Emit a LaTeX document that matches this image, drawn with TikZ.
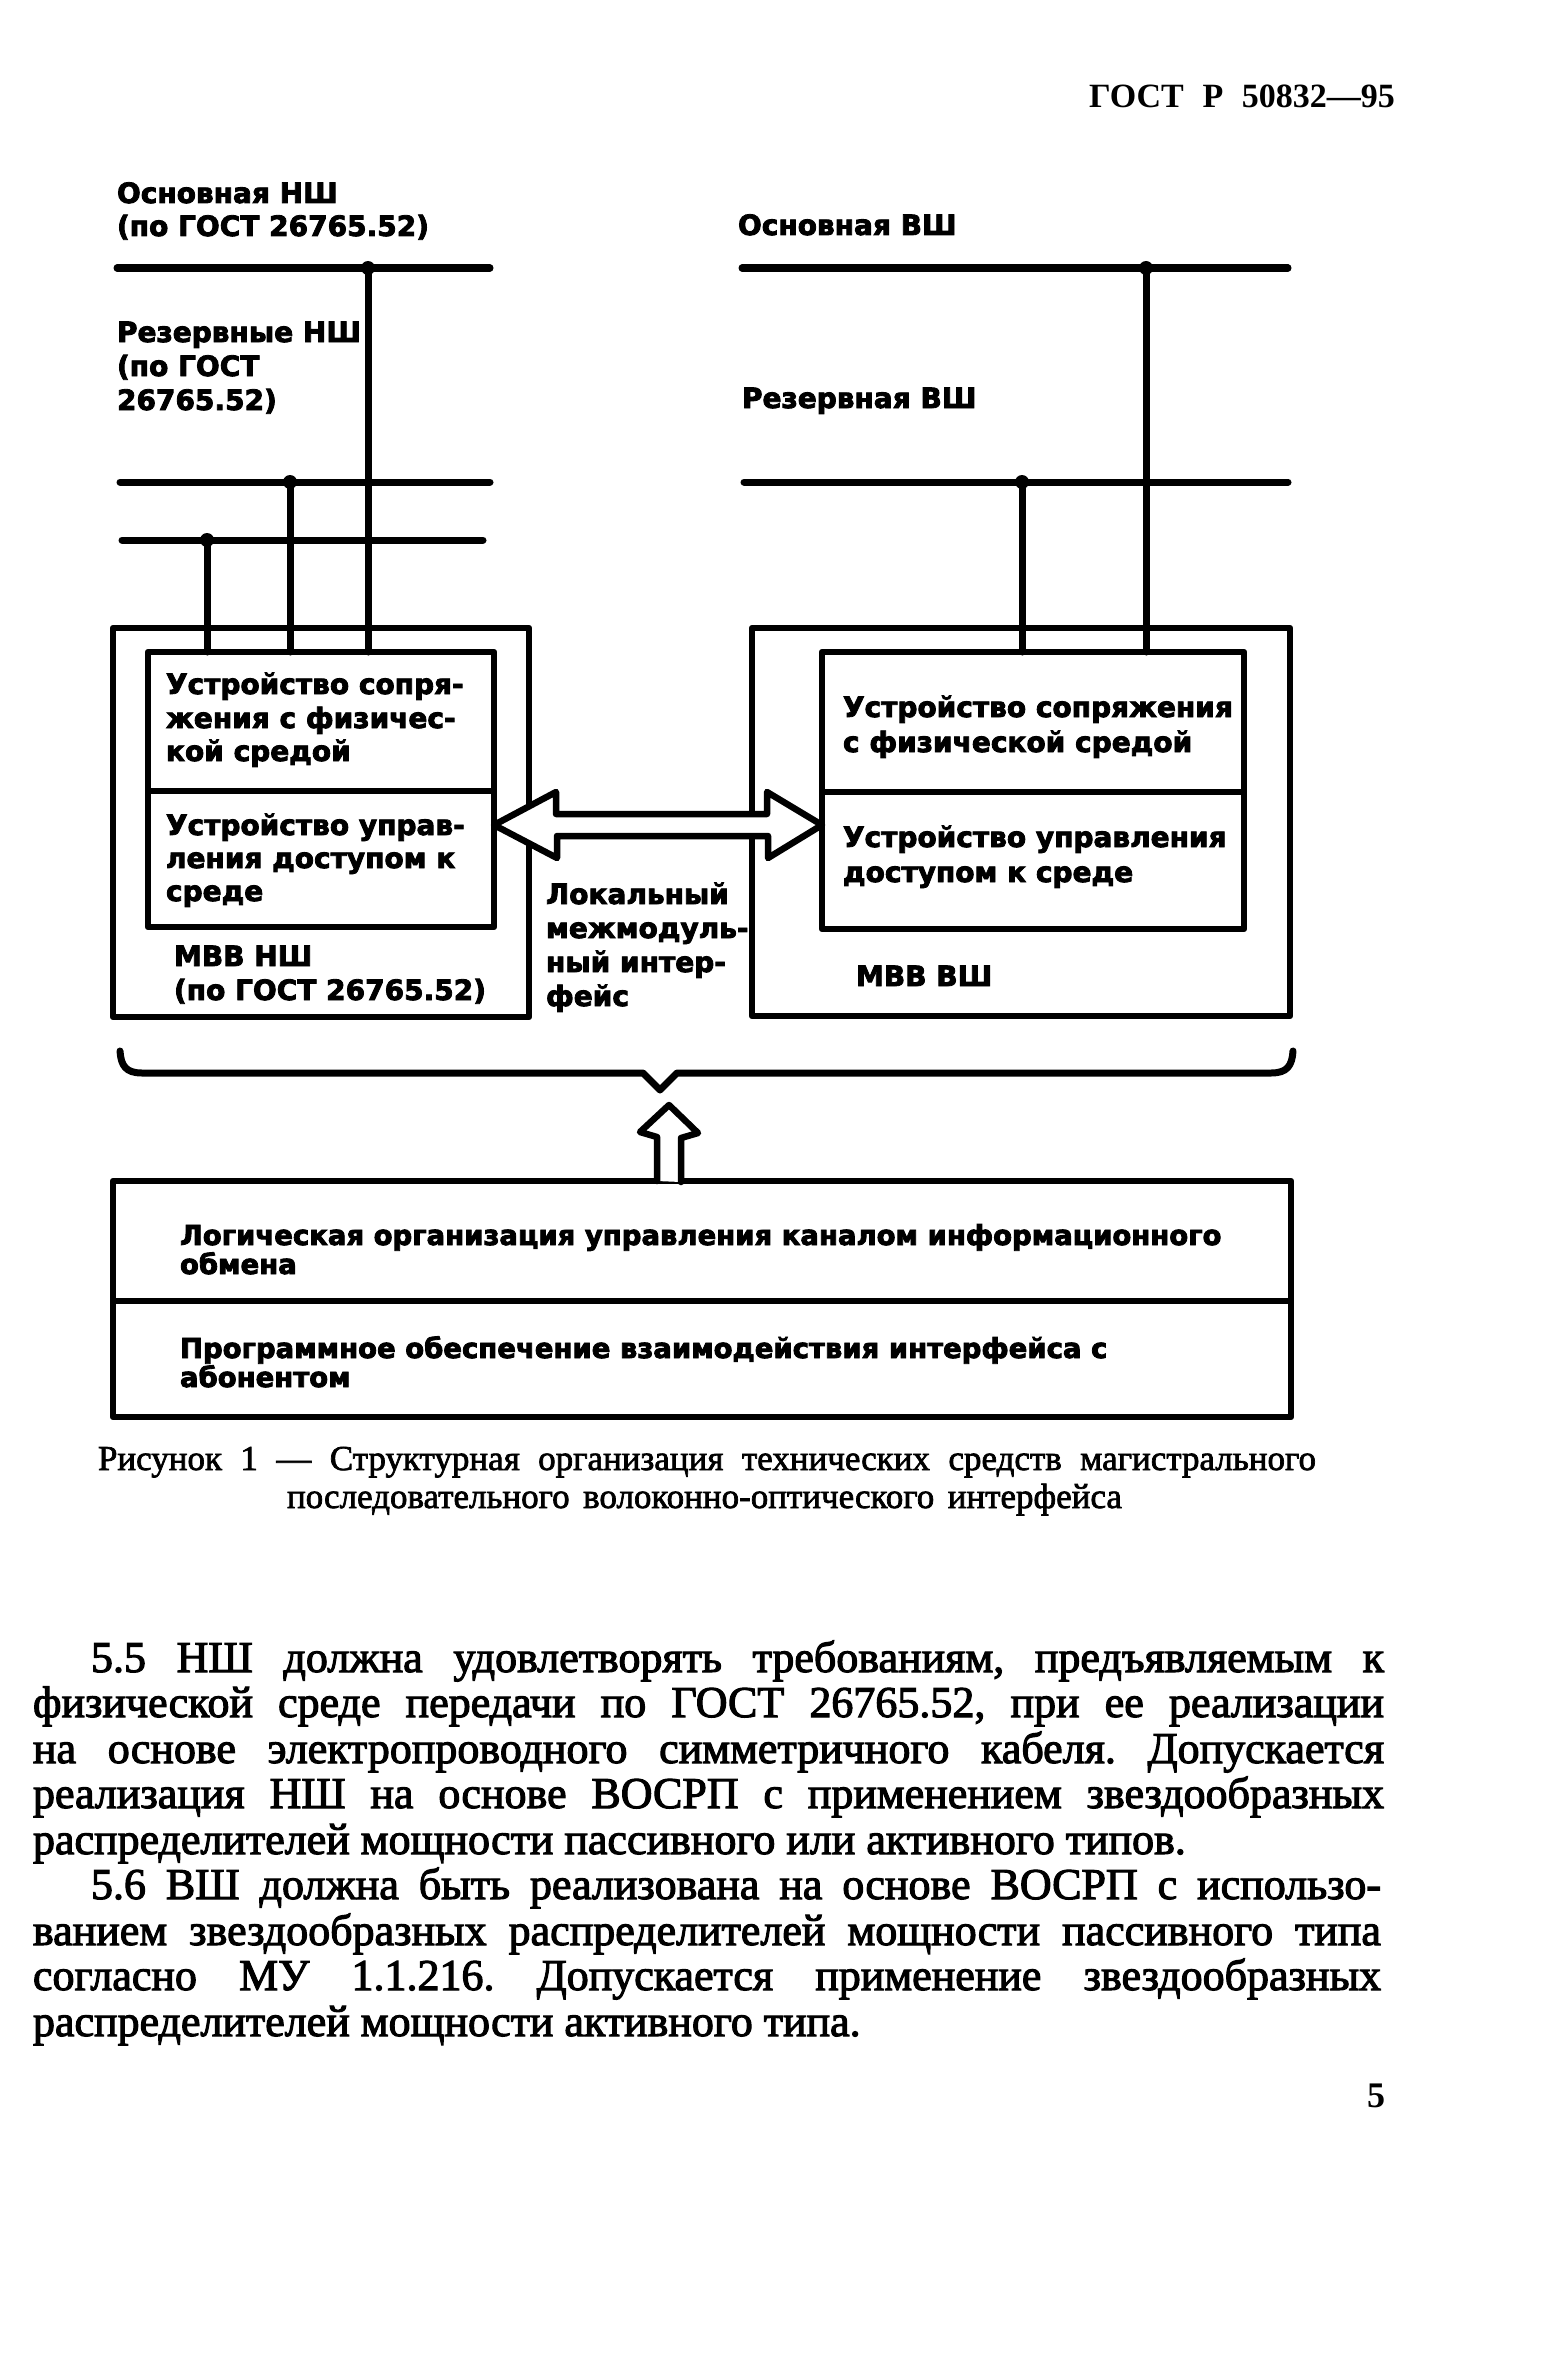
\documentclass[tikz,border=0pt]{standalone}
\usepackage{fontspec}
\setmainfont{Liberation Serif}
\newfontfamily\bodyf[FakeBold=2.5]{Liberation Serif}
\newfontfamily\captf[FakeBold=2]{Liberation Serif}
\newfontfamily\headf{Liberation Serif}
\newfontfamily\diaf[BoldFeatures={FakeBold=3}]{DejaVu Sans}
\newcommand\jline[2]{\hbox to #1pt{\frenchspacing\spaceskip=0.15em plus 1fil\relax #2}}
\begin{document}
\begin{tikzpicture}[x=1pt,y=-1pt,
  every node/.style={inner sep=0pt,outer sep=0pt},
  busline/.style={line width=7pt,line cap=round,line join=round},
  frame/.style={draw,line width=6.5pt,line join=round,rectangle},
  lab/.style={anchor=base west,font=\diaf\bfseries\fontsize{28}{33}\selectfont},
  blab/.style={anchor=base west,font=\diaf\bfseries\fontsize{27.5}{30}\selectfont},
  bodyline/.style={anchor=base west,font=\bodyf\fontsize{44}{45}\selectfont},
  capline/.style={anchor=base west,font=\captf\fontsize{35}{38}\selectfont},
  hollow/.style={draw,fill=white,line width=6.5pt,line join=round,line cap=round}]
\useasboundingbox (0,0) rectangle (1546,2373);
\fill[white] (0,0) rectangle (1546,2373);

% header
\node[anchor=base west,font=\headf\bfseries\fontsize{34}{36}\selectfont] (hdr) at (1089,108) {\jline{306}{ГОСТ Р 50832—95}};

% bus labels
\node[lab] (nsh1) at (117,203) {Основная НШ};
\node[lab] (nsh2) at (117,236) {(по ГОСТ 26765.52)};
\node[lab] (vsh1) at (738,235) {Основная ВШ};
\node[lab] (rn1) at (117,342) {Резервные НШ};
\node[lab] (rn2) at (117,376) {(по ГОСТ};
\node[lab] (rn3) at (117,410) {26765.52)};
\node[lab] (rv1) at (742,408) {Резервная ВШ};

% bus lines
\coordinate (na) at (117,268); \coordinate (nb) at (490,268);
\coordinate (ra) at (120,482); \coordinate (rb) at (490,482);
\coordinate (sa) at (122,540); \coordinate (sb) at (483,540);
\coordinate (va) at (742,268); \coordinate (vb) at (1288,268);
\coordinate (wa) at (744,482); \coordinate (wb) at (1288,482);
\draw[busline] (na) -- (nb);
\draw[busline] (ra) -- (rb);
\draw[busline] (sa) -- (sb);
\draw[busline] (va) -- (vb);
\draw[busline] (wa) -- (wb);

% boxes
\node[frame,minimum width=416,minimum height=389,anchor=north west] (outL) at (113,628) {};
\node[frame,minimum width=538,minimum height=388,anchor=north west] (outR) at (752,628) {};
\node[frame,minimum width=346,minimum height=139,anchor=north west] (inL1) at (148,652) {};
\node[frame,minimum width=346,minimum height=136,anchor=north west] (inL2) at (inL1.south west) {};
\node[frame,minimum width=422,minimum height=140,anchor=north west] (inR1) at (822,652) {};
\node[frame,minimum width=422,minimum height=137,anchor=north west] (inR2) at (inR1.south west) {};

% taps
\coordinate (d1) at (368,268); \coordinate (d2) at (290,482); \coordinate (d3) at (207,540);
\coordinate (d4) at (1146,268); \coordinate (d5) at (1022,482);
\draw[busline] (d1) -- (d1 |- inL1.north);
\draw[busline] (d2) -- (d2 |- inL1.north);
\draw[busline] (d3) -- (d3 |- inL1.north);
\draw[busline] (d4) -- (d4 |- inR1.north);
\draw[busline] (d5) -- (d5 |- inR1.north);
\foreach \d in {d1,d2,d3,d4,d5} \fill (\d) circle (7);

% box texts
\node[lab] (t1) at (166,694) {Устройство сопря-};
\node[lab] (t2) at (166,728) {жения с физичес-};
\node[lab] (t3) at (166,761) {кой средой};
\node[lab] (t4) at (166,835) {Устройство управ-};
\node[lab] (t5) at (166,868) {ления доступом к};
\node[lab] (t6) at (166,901) {среде};
\node[lab] (t7) at (174,966) {МВВ НШ};
\node[lab] (t8) at (174,1000) {(по ГОСТ 26765.52)};
\node[lab] (u1) at (843,717) {Устройство сопряжения};
\node[lab] (u2) at (843,752) {с физической средой};
\node[lab] (u3) at (843,847) {Устройство управления};
\node[lab] (u4) at (843,882) {доступом к среде};
\node[lab] (u5) at (856,986) {МВВ ВШ};
\node[lab] (k1) at (546,904) {Локальный};
\node[lab] (k2) at (546,938) {межмодуль-};
\node[lab] (k3) at (546,972) {ный интер-};
\node[lab] (k4) at (546,1006) {фейс};

% double arrow
\coordinate (tipL) at (494,825);
\coordinate (tipR) at (822,825);
\draw[hollow] (tipL) -- ++(62,-33) -- ++(0,22) -- ++(211,0) -- ++(0,-22) -- (tipR)
  -- ++(-54,33) -- ++(0,-22) -- ++(-211,0) -- ++(0,22) -- cycle;

% brace
\coordinate (brL) at (120,1051); \coordinate (brR) at (1293,1051); \coordinate (brT) at (660,1090);
\draw[busline] (brL) .. controls (121,1066) and (126,1073) .. (142,1073) -- (643,1073) -- (brT)
  -- (677,1073) -- (1271,1073) .. controls (1287,1073) and (1292,1066) .. (brR);

% bottom boxes
\node[frame,minimum width=1178,minimum height=120,anchor=north west] (bot1) at (113,1181) {};
\node[frame,minimum width=1178,minimum height=116,anchor=north west] (bot2) at (bot1.south west) {};
\node[blab] (b1) at (180,1245) {Логическая организация управления каналом информационного};
\node[blab] (b2) at (180,1274) {обмена};
\node[blab] (b3) at (180,1358) {Программное обеспечение взаимодействия интерфейса с};
\node[blab] (b4) at (180,1387) {абонентом};

% up arrow
\coordinate (ub) at (669,1181);
\draw[hollow] (ub) ++(-12,0) -- ++(0,-44) -- ++(-17,-5) -- (669,1105) -- ++(29,28) -- ++(-17,5) -- ++(0,44);

% caption
\node[capline] (c1) at (98,1470) {\jline{1218}{Рисунок 1 — Структурная организация технических средств магистрального}};
\node[capline] (c2) at (287,1508) {\jline{835}{последовательного волоконно-оптического интерфейса}};

% body text
\node[bodyline] (p1) at (91,1672) {\jline{1293}{5.5 НШ должна удовлетворять требованиям, предъявляемым к}};
\node[bodyline] (p2) at (33,1717) {\jline{1351}{физической среде передачи по ГОСТ 26765.52, при ее реализации}};
\node[bodyline] (p3) at (33,1763) {\jline{1351}{на основе электропроводного симметричного кабеля. Допускается}};
\node[bodyline] (p4) at (33,1808) {\jline{1351}{реализация НШ на основе ВОСРП с применением звездообразных}};
\node[bodyline] (p5) at (33,1854) {распределителей мощности пассивного или активного типов.};
\node[bodyline] (p6) at (91,1899) {\jline{1290}{5.6 ВШ должна быть реализована на основе ВОСРП с использо-}};
\node[bodyline] (p7) at (33,1945) {\jline{1348}{ванием звездообразных распределителей мощности пассивного типа}};
\node[bodyline] (p8) at (33,1990) {\jline{1348}{согласно МУ 1.1.216. Допускается применение звездообразных}};
\node[bodyline] (p9) at (33,2036) {распределителей мощности активного типа.};

% page number
\node[anchor=base west,font=\headf\bfseries\fontsize{36}{40}\selectfont] (pg) at (1367,2107) {5};
\end{tikzpicture}
\end{document}
